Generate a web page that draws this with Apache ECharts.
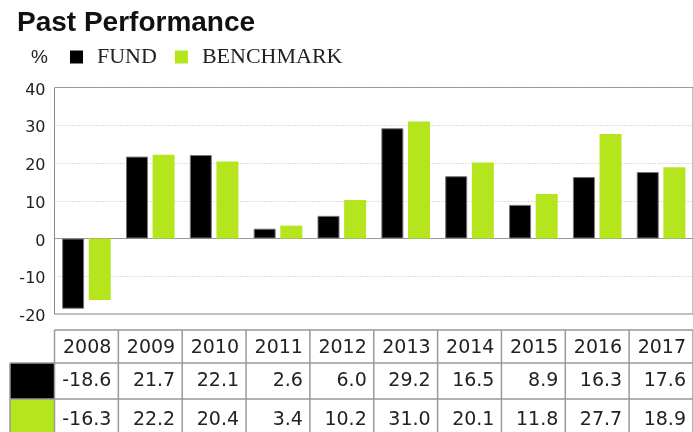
<!DOCTYPE html>
<html>
<head>
<meta charset="utf-8">
<script src="https://cdn.jsdelivr.net/npm/echarts@6/dist/echarts.min.js"></script>
<style>
  html, body { margin: 0; padding: 0; background: #fff; }
  #main { width: 693px; height: 432px; }
</style>
</head>
<body>
<div id="main"></div>
<script>
// data (the table gives exact values)
var years = ["2008", "2009", "2010", "2011", "2012", "2013", "2014", "2015", "2016", "2017"];
var fund = [-18.6, 21.7, 22.1, 2.6, 6.0, 29.2, 16.5, 8.9, 16.3, 17.6];
var benchmark = [-16.3, 22.2, 20.4, 3.4, 10.2, 31.0, 20.1, 11.8, 27.7, 18.9];
var yMin = -20, yMax = 40, yStep = 10;

var FUND_COLOR = "#000000";
var BENCH_COLOR = "#b5e61d";
var LINE_COLOR = "#999";

var chart = echarts.init(document.getElementById("main"));

var option = {
  animation: false,
  title: {
    text: "Past Performance",
    left: 17,
    top: 9,
    padding: 0,
    textStyle: { fontFamily: "Liberation Sans", fontWeight: "bold", fontSize: 28, color: "#111" }
  },
  legend: {
    data: ["FUND", "BENCHMARK"],
    left: 70,
    top: 46,
    padding: 0,
    icon: "rect",
    itemWidth: 13,
    itemHeight: 13,
    itemGap: 18,
    itemStyle: { borderWidth: 0 },
    textStyle: { fontFamily: "Liberation Serif", fontSize: 22, color: "#222", padding: [0, 0, 0, 9] }
  },
  grid: {
    left: 54.5,
    right: -2,
    top: 87.5,
    bottom: 118,
    show: true,
    borderColor: "#888",
    borderWidth: 1
  },
  xAxis: {
    type: "category",
    data: years,
    axisLine: { onZero: true, lineStyle: { color: LINE_COLOR } },
    axisTick: { show: false },
    axisLabel: { show: false }
  },
  yAxis: {
    type: "value",
    min: yMin,
    max: yMax,
    interval: yStep,
    axisLine: { show: false },
    axisTick: { show: false },
    axisLabel: { fontFamily: "DejaVu Sans", fontSize: 16, color: "#222", margin: 9, lineHeight: 20, verticalAlign: "top", padding: [-7, 0, 0, 0] },
    splitLine: { lineStyle: { type: [1, 2], color: "#bbb" } }
  },
  series: [
    {
      name: "FUND",
      type: "bar",
      data: fund,
      barWidth: 22,
      barGap: "21%",
      itemStyle: { color: FUND_COLOR, borderColor: "#777", borderWidth: 1 }
    },
    {
      name: "BENCHMARK",
      type: "bar",
      data: benchmark,
      barWidth: 22,
      itemStyle: { color: BENCH_COLOR }
    }
  ]
};

chart.setOption(option);

// data table under the plot, columns lined up with the category bands
function buildTable() {
  var c0 = chart.convertToPixel({ xAxisIndex: 0 }, years[0]);
  var c1 = chart.convertToPixel({ xAxisIndex: 0 }, years[1]);
  var band = c1 - c0;
  var left = c0 - band / 2;
  var right = left + band * years.length;
  var rows = [330, 363, 399, 440];
  var textMid = [348, 381.5, 420];
  var swatchLeft = 10;
  var font = "19px 'DejaVu Sans'";
  var els = [];

  els.push({ type: "text", left: 31, top: 48, style: { text: "%", font: "19px 'Liberation Sans'", fill: "#222" } });

  els.push({ type: "rect", shape: { x: swatchLeft, y: rows[1], width: left - swatchLeft, height: rows[2] - rows[1] },
    style: { fill: FUND_COLOR } });
  els.push({ type: "rect", shape: { x: swatchLeft, y: rows[2], width: left - swatchLeft, height: rows[3] - rows[2] },
    style: { fill: BENCH_COLOR } });

  var lineStyle = { stroke: LINE_COLOR, lineWidth: 1.5 };
  els.push({ type: "line", shape: { x1: left, y1: rows[0], x2: right, y2: rows[0] }, style: lineStyle });
  els.push({ type: "line", shape: { x1: swatchLeft, y1: rows[1], x2: right, y2: rows[1] }, style: lineStyle });
  els.push({ type: "line", shape: { x1: swatchLeft, y1: rows[2], x2: right, y2: rows[2] }, style: lineStyle });
  els.push({ type: "line", shape: { x1: swatchLeft, y1: rows[1], x2: swatchLeft, y2: rows[3] }, style: lineStyle });

  for (var i = 0; i <= years.length; i++) {
    var x = left + band * i;
    els.push({ type: "line", shape: { x1: x, y1: rows[0], x2: x, y2: rows[3] }, style: lineStyle });
  }

  var cells = [years, fund.map(function (v) { return v.toFixed(1); }), benchmark.map(function (v) { return v.toFixed(1); })];
  cells.forEach(function (row, r) {
    row.forEach(function (txt, i) {
      els.push({
        type: "text",
        x: left + band * (i + 1) - 7,
        y: textMid[r],
        style: { text: txt, font: font, fill: "#222", textAlign: "right", textVerticalAlign: "middle" }
      });
    });
  });

  chart.setOption({ graphic: { elements: els } });
}

buildTable();
</script>
</body>
</html>
